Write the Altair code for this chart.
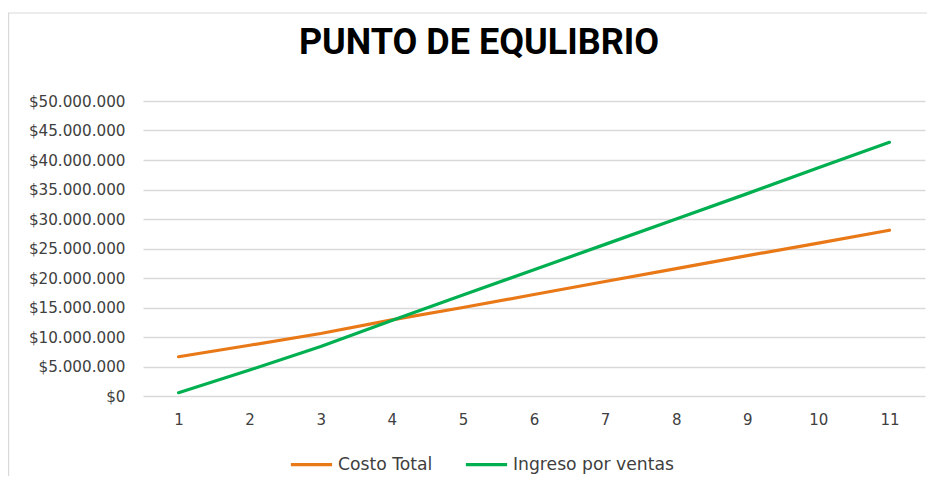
import altair as alt
import pandas as pd

periodos = [1, 2, 3, 4, 5, 6, 7, 8, 9, 10, 11]
costo_total = [6.66e6, 8.6e6, 10.6e6, 12.9e6, 15.0e6, 17.2e6, 19.4e6, 21.6e6, 23.8e6, 25.9e6, 28.1e6]
ingreso_ventas = [0.56e6, 4.4e6, 8.4e6, 12.8e6, 17.1e6, 21.4e6, 25.7e6, 30.0e6, 34.3e6, 38.7e6, 43.0e6]
series = ["Costo Total", "Ingreso por ventas"]
colores = ["#E97817", "#00B050"]
titulo = "PUNTO DE EQULIBRIO"

rows = []
for i, p in enumerate(periodos):
    rows.append({"x": p, "serie": series[0], "valor": costo_total[i]})
    rows.append({"x": p, "serie": series[1], "valor": ingreso_ventas[i]})
df = pd.DataFrame(rows)

FONT = "DejaVu Sans"
W, H = 782, 295

lines = alt.Chart(df).mark_line(strokeWidth=3.2, strokeCap="round").encode(
    x=alt.X("x:O", sort=periodos, scale=alt.Scale(padding=0.5),
            axis=alt.Axis(title=None, labelAngle=0, domain=False, ticks=False,
                          labelPadding=16, labelFontSize=15, labelColor="#404040",
                          labelFont=FONT, grid=False)),
    y=alt.Y("valor:Q", scale=alt.Scale(domain=[0, 50000000]),
            axis=alt.Axis(title=None, values=list(range(0, 50000001, 5000000)),
                          labelExpr='"$" + replace(format(datum.value, ",.0f"), /,/g, ".")',
                          domain=False, ticks=False, labelPadding=18, labelFontSize=15.2,
                          labelColor="#404040", labelFont=FONT,
                          gridColor="#D9D9D9", gridWidth=1.3)),
    color=alt.Color("serie:N", scale=alt.Scale(domain=series, range=colores),
                    legend=alt.Legend(title=None, orient="none", legendX=146, legendY=341,
                                      direction="horizontal", symbolType="stroke",
                                      symbolSize=1700, symbolStrokeWidth=3.2,
                                      labelFontSize=17.2, labelFont=FONT, labelColor="#404040",
                                      labelLimit=400, columnPadding=26, labelOffset=4)),
)

border = alt.Chart(pd.DataFrame({"a": [0]})).mark_rect(
    fill=None, stroke="#D9D9D9", strokeWidth=1.2
).encode(x=alt.value(-134.4), x2=alt.value(1000), y=alt.value(-88), y2=alt.value(500))

title_mark = alt.Chart(pd.DataFrame({"t": [titulo]})).mark_text(
    font="Roboto", fontSize=36, fontWeight="bold", color="#000000",
    align="center", baseline="alphabetic"
).encode(text="t:N", x=alt.value(336), y=alt.value(-47))

chart = alt.layer(border, lines, title_mark).properties(
    width=W, height=H,
    padding={"left": 135, "top": 93, "right": 2, "bottom": 80},
    autosize=alt.AutoSizeParams(type="none"),
    background="white",
).configure_view(stroke=None)

chart.save("out.html", embed_options={"renderer": "svg", "actions": False})
